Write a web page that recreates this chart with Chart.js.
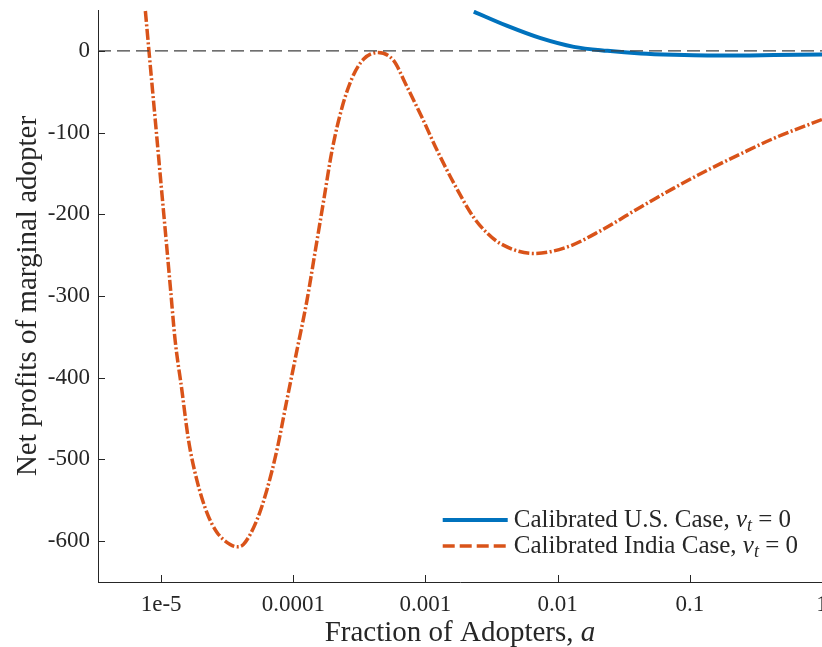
<!DOCTYPE html>
<html>
<head>
<meta charset="utf-8">
<script src="https://cdn.jsdelivr.net/npm/chart.js@4.4.1/dist/chart.umd.min.js"></script>
<style>
  html, body { margin: 0; padding: 0; background: #ffffff; overflow: hidden; }
  #wrap { width: 822px; height: 647px; }
</style>
</head>
<body>
<div id="wrap"><canvas id="profitChart" width="822" height="647"></canvas></div>
<script>
// Calibrated U.S. case
const usAdopters = [2.32e-3, 4.16e-3, 7.43e-3, 1.327e-2, 2.38e-2, 4.26e-2, 7.57e-2, 0.136, 0.243, 0.433, 1.0];
const usProfits = [48, 30.5, 15.5, 4.9, 0, -3.3, -4.9, -5.7, -5.7, -5.2, -4.5];

// Calibrated India case
const indiaAdopters = [
  7.6e-6, 8.09e-6, 8.62e-6, 9.33e-6, 1.009e-5, 1.092e-5, 1.18e-5, 1.276e-5, 1.435e-5, 1.61e-5,
  1.862e-5, 2.22e-5, 2.64e-5, 3.33e-5, 3.77e-5, 4.2e-5, 5.31e-5, 6.32e-5, 7.53e-5, 8.95e-5,
  1.067e-4, 1.27e-4, 1.469e-4, 1.698e-4, 1.963e-4, 2.34e-4, 2.79e-4, 3.41e-4, 4.38e-4, 5.75e-4,
  7.05e-4, 9.44e-4, 1.227e-3, 1.64e-3, 2.32e-3, 2.93e-3, 3.7e-3, 6.58e-3, 1.183e-2, 2.12e-2,
  4.26e-2, 7.57e-2, 0.136, 0.243, 0.433, 1.0
];
const indiaProfits = [
  48.8, 0, -49, -110, -171, -232, -293, -354, -415, -476,
  -525, -565, -589, -604, -607, -604, -574, -537, -488, -427,
  -366, -305, -244, -183, -122, -69, -33, -10, -2, -12,
  -40, -82, -122, -162, -204, -223, -236, -248, -240, -220,
  -191, -168, -146, -126, -107, -84
];

const xTickValues = [1e-5, 1e-4, 1e-3, 1e-2, 1e-1, 1];
const xTickLabels = ["1e-5", "0.0001", "0.001", "0.01", "0.1", "1"];
const yTickValues = [0, -100, -200, -300, -400, -500, -600];
const yTickLabels = ["0", "-100", "-200", "-300", "-400", "-500", "-600"];
const xRange = [3.33e-6, 1];
const yRange = [-650, 50];

const serif = "'Liberation Serif', 'DejaVu Serif', serif";
const axisColor = "#262626";

function toPoints(xs, ys) {
  return xs.map((x, i) => ({ x: x, y: ys[i] }));
}

// inward tick marks like the original figure
const innerTicks = {
  id: "innerTicks",
  afterDraw(chart) {
    const { ctx, chartArea, scales } = chart;
    ctx.save();
    ctx.strokeStyle = axisColor;
    ctx.lineWidth = 1;
    ctx.beginPath();
    xTickValues.forEach((v) => {
      const px = Math.round(scales.x.getPixelForValue(v)) + 0.5;
      ctx.moveTo(px, chartArea.bottom);
      ctx.lineTo(px, chartArea.bottom - 7);
    });
    yTickValues.forEach((v) => {
      const py = Math.round(scales.y.getPixelForValue(v)) + 0.5;
      ctx.moveTo(chartArea.left, py);
      ctx.lineTo(chartArea.left + 7, py);
    });
    ctx.stroke();
    ctx.restore();
  },
};

// legend in the lower right corner, with the math part in italics
const cornerLegend = {
  id: "cornerLegend",
  afterDraw(chart) {
    const { ctx, chartArea } = chart;
    const items = chart.data.datasets.filter((d) => d.legendText);
    const size = 25;
    const regular = size + "px " + serif;
    const italic = "italic " + size + "px " + serif;
    const sub = "italic " + Math.round(size * 0.7) + "px " + serif;

    function textWidth(t) {
      ctx.font = regular;
      let w = ctx.measureText(t).width;
      ctx.font = italic;
      w += ctx.measureText("\u03bd").width;
      ctx.font = sub;
      w += ctx.measureText("t").width;
      ctx.font = regular;
      w += ctx.measureText(" = 0").width;
      return w;
    }

    ctx.save();
    const maxW = Math.max(...items.map((d) => textWidth(d.legendText)));
    const textX = chartArea.right - 24 - maxW;
    const lineR = textX - 6;
    const lineL = lineR - 65;
    items.forEach((d, i) => {
      const y = chartArea.bottom - 36 - (items.length - 1 - i) * 26;
      ctx.strokeStyle = d.borderColor;
      ctx.lineWidth = d.borderWidth;
      ctx.setLineDash(d.legendDash || []);
      ctx.beginPath();
      ctx.moveTo(lineL, y);
      ctx.lineTo(lineR, y);
      ctx.stroke();
      ctx.setLineDash([]);

      ctx.fillStyle = axisColor;
      ctx.textBaseline = "middle";
      ctx.textAlign = "left";
      let x = textX;
      ctx.font = regular;
      ctx.fillText(d.legendText, x, y);
      x += ctx.measureText(d.legendText).width;
      ctx.font = italic;
      ctx.fillText("\u03bd", x, y);
      x += ctx.measureText("\u03bd").width;
      ctx.font = sub;
      ctx.fillText("t", x, y + 6);
      x += ctx.measureText("t").width;
      ctx.font = regular;
      ctx.fillText(" = 0", x, y);
    });
    ctx.restore();
  },
};

// x axis title, "a" in italics
const xTitle = {
  id: "xTitle",
  afterDraw(chart) {
    const { ctx, chartArea } = chart;
    const main = "Fraction of Adopters, ";
    const font = "29px " + serif;
    const fontIt = "italic 29px " + serif;
    ctx.save();
    ctx.fillStyle = axisColor;
    ctx.textBaseline = "alphabetic";
    ctx.font = font;
    const w1 = ctx.measureText(main).width;
    ctx.font = fontIt;
    const w2 = ctx.measureText("a").width;
    const x = (chartArea.left + chartArea.right) / 2 - (w1 + w2) / 2;
    ctx.font = font;
    ctx.fillText(main, x, 641);
    ctx.font = fontIt;
    ctx.fillText("a", x + w1, 641);
    ctx.restore();
  },
};

const ctx = document.getElementById("profitChart").getContext("2d");
const profitChart = new Chart(ctx, {
  type: "line",
  data: {
    datasets: [
      {
        label: "zero",
        data: toPoints(xRange, [0, 0]),
        borderColor: "#404040",
        borderWidth: 1.2,
        borderDash: [13, 6],
        pointRadius: 0,
      },
      {
        label: "Calibrated U.S. Case, \u03bd\u209c = 0",
        legendText: "Calibrated U.S. Case, ",
        data: toPoints(usAdopters, usProfits),
        borderColor: "#0072BD",
        borderWidth: 4,
        pointRadius: 0,
        cubicInterpolationMode: "monotone",
      },
      {
        label: "Calibrated India Case, \u03bd\u209c = 0",
        legendText: "Calibrated India Case, ",
        legendDash: [12, 5],
        data: toPoints(indiaAdopters, indiaProfits),
        borderColor: "#D95319",
        borderWidth: 3.5,
        borderDash: [11, 2.5, 2, 2.5],
        pointRadius: 0,
        cubicInterpolationMode: "monotone",
      },
    ],
  },
  options: {
    responsive: false,
    animation: false,
    layout: { padding: { top: 10, left: 0, right: 0, bottom: 0 } },
    plugins: {
      legend: { display: false },
      tooltip: { enabled: false },
    },
    scales: {
      x: {
        type: "logarithmic",
        min: xRange[0],
        max: xRange[1],
        afterBuildTicks(scale) {
          scale.ticks = xTickValues.map((v) => ({ value: v }));
        },
        afterFit(scale) {
          scale.height = 65;
          scale.paddingLeft = 0;
          scale.paddingRight = 0;
        },
        ticks: {
          autoSkip: false,
          maxRotation: 0,
          padding: 9,
          color: axisColor,
          font: { family: serif, size: 23 },
          callback: (value, index) => xTickLabels[index],
        },
        grid: { display: true, drawOnChartArea: false, drawTicks: false, tickLength: 0 },
        border: { display: true, color: axisColor, width: 1 },
      },
      y: {
        min: yRange[0],
        max: yRange[1],
        afterBuildTicks(scale) {
          scale.ticks = yTickValues.map((v) => ({ value: v }));
        },
        afterFit(scale) {
          scale.width = 98;
          scale.paddingTop = 0;
          scale.paddingBottom = 0;
        },
        ticks: {
          autoSkip: false,
          padding: 8,
          color: axisColor,
          font: { family: serif, size: 23 },
          callback: (value, index) => yTickLabels[index],
        },
        title: {
          display: true,
          text: "Net profits of marginal adopter",
          color: axisColor,
          font: { family: serif, size: 29 },
          padding: { top: 11, bottom: 0 },
        },
        grid: { display: true, drawOnChartArea: false, drawTicks: false, tickLength: 0 },
        border: { display: true, color: axisColor, width: 1 },
      },
    },
  },
  plugins: [innerTicks, cornerLegend, xTitle],
});
</script>
</body>
</html>
